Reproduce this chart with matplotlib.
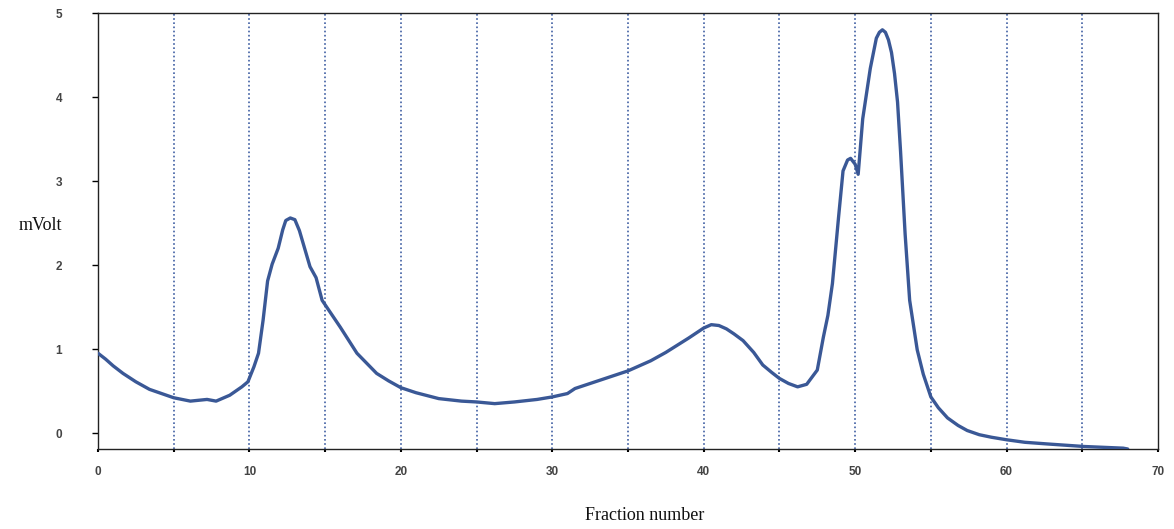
import matplotlib
matplotlib.use("Agg")
import matplotlib.pyplot as plt

# Data
fraction = [0.0, 0.5, 1.0, 1.65, 2.5, 3.4, 4.2, 5.0, 6.1, 7.2, 7.8, 8.7, 9.5, 9.9,
            10.3, 10.6, 10.9, 11.2, 11.5, 11.9, 12.2, 12.4, 12.7, 13.0, 13.3, 14.0, 14.4, 14.8,
            15.4, 16.0, 17.1, 18.4, 19.2, 20.0, 21.0, 22.5, 24.0, 25.0, 26.2, 27.5,
            29.0, 30.0, 31.0, 31.5, 33.0, 35.0, 36.5, 37.5, 39.0, 39.5, 40.0, 40.5, 41.0,
            41.5, 42.0, 42.6, 43.3, 43.9, 44.5, 45.0, 45.6, 46.2, 46.8, 47.5, 47.9, 48.2,
            48.5, 48.9, 49.2, 49.5, 49.7, 50.0, 50.2, 50.5, 51.0, 51.4, 51.6, 51.8, 52.0,
            52.2, 52.4, 52.6, 52.8, 53.0, 53.3, 53.6, 54.1, 54.5, 55.0, 55.5, 56.1, 56.8,
            57.4, 58.2, 59.0, 60.0, 61.2, 62.7, 65.1, 67.7, 68.0]
mvolt = [0.95, 0.88, 0.80, 0.71, 0.61, 0.52, 0.47, 0.42, 0.38, 0.40, 0.38, 0.45, 0.55, 0.61,
         0.79, 0.95, 1.34, 1.81, 2.01, 2.20, 2.42, 2.53, 2.56, 2.54, 2.41, 1.98, 1.85, 1.58,
         1.42, 1.26, 0.95, 0.71, 0.62, 0.54, 0.48, 0.41, 0.38, 0.37, 0.35, 0.37,
         0.40, 0.43, 0.47, 0.53, 0.62, 0.74, 0.86, 0.96, 1.13, 1.19, 1.25, 1.29, 1.28,
         1.24, 1.18, 1.10, 0.96, 0.81, 0.72, 0.65, 0.59, 0.55, 0.58, 0.75, 1.14, 1.40,
         1.78, 2.56, 3.12, 3.25, 3.27, 3.20, 3.08, 3.74, 4.34, 4.70, 4.77, 4.80, 4.77,
         4.68, 4.53, 4.28, 3.94, 3.35, 2.37, 1.58, 0.99, 0.70, 0.43, 0.30, 0.18, 0.09,
         0.03, -0.02, -0.05, -0.08, -0.11, -0.13, -0.16, -0.18, -0.19]

xticks = [0, 10, 20, 30, 40, 50, 60, 70]
yticks = [0, 1, 2, 3, 4, 5]
grid_x = [5, 10, 15, 20, 25, 30, 35, 40, 45, 50, 55, 60, 65]

fig = plt.figure(figsize=(11.74, 5.29), dpi=100)
ax = fig.add_axes([98/1174, 1-449/529, (1158-98)/1174, (449-13)/529])

for gx in grid_x:
    ax.axvline(gx, color="#3f5fa3", linestyle=(0, (1, 1.5)), linewidth=1.2, zorder=1)

ax.plot(fraction, mvolt, color="#3a5896", linewidth=2.4, zorder=3,
        solid_joinstyle="round", solid_capstyle="round")

ax.set_xlim(0, 70)
ax.set_ylim(-0.19, 5.0)
ax.set_xticks(xticks)
ax.set_yticks(yticks)
ax.set_xticks(grid_x, minor=True)

for s in ax.spines.values():
    s.set_color("#222222")
    s.set_linewidth(1.0)

ax.tick_params(axis="y", direction="out", length=4, width=1, pad=22,
               labelsize=8.5, labelcolor="#444444")
ax.tick_params(axis="x", which="major", direction="out", length=2, width=1.5, pad=10,
               labelsize=8.5, labelcolor="#444444")
ax.tick_params(axis="x", which="minor", direction="out", length=2, width=1.5)
for lab in ax.get_xticklabels() + ax.get_yticklabels():
    lab.set_fontfamily("Liberation Sans")
    lab.set_fontweight("bold")

fig.text(40/1174, 1-225/529, "mVolt", fontfamily="Liberation Serif", fontsize=13,
         ha="center", va="center", color="#111111")
fig.text(645/1174, 1-515/529, "Fraction number", fontfamily="Liberation Serif", fontsize=13,
         ha="center", va="center", color="#111111")

fig.savefig("out.png", dpi=100, facecolor="white")
